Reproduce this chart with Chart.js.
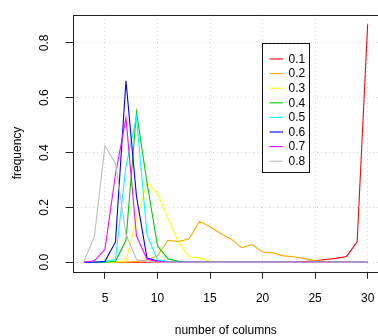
<!DOCTYPE html>
<html>
<head>
<meta charset="utf-8">
<script src="https://cdn.jsdelivr.net/npm/chart.js@4.4.1/dist/chart.umd.min.js"></script>
<style>
  html, body { margin: 0; padding: 0; background: #fff; overflow: hidden; }
  #wrap { width: 380px; height: 336px; }
</style>
</head>
<body>
<div id="wrap"><canvas id="freqChart" width="380" height="336"></canvas></div>
<script>
// number of columns (x values)
var columns = [3, 4, 5, 6, 7, 8, 9, 10, 11, 12, 13, 14, 15, 16, 17, 18, 19, 20, 21, 22, 23, 24, 25, 26, 27, 28, 29, 30];
// frequency for each setting
var p01 = [0, 0, 0, 0, 0, 0, 0, 0, 0, 0, 0, 0, 0, 0, 0, 0, 0, 0, 0, 0, 0, 0.002, 0.005, 0.01, 0.014, 0.021, 0.074, 0.868];
var p02 = [0, 0, 0, 0, 0, 0.003, 0.008, 0.023, 0.08, 0.075, 0.085, 0.149, 0.13, 0.105, 0.085, 0.053, 0.064, 0.037, 0.034, 0.023, 0.02, 0.013, 0.006, 0.002, 0, 0, 0, 0];
var p03 = [0, 0, 0, 0, 0.005, 0.155, 0.29, 0.251, 0.16, 0.074, 0.019, 0.016, 0.003, 0.001, 0, 0, 0, 0, 0, 0, 0, 0, 0, 0, 0, 0, 0, 0];
var p04 = [0, 0, 0, 0.003, 0.08, 0.548, 0.29, 0.06, 0.012, 0.003, 0, 0, 0, 0, 0, 0, 0, 0, 0, 0, 0, 0, 0, 0, 0, 0, 0, 0];
var p05 = [0, 0, 0.002, 0.01, 0.35, 0.53, 0.1, 0.008, 0.002, 0, 0, 0, 0, 0, 0, 0, 0, 0, 0, 0, 0, 0, 0, 0, 0, 0, 0, 0];
var p06 = [0, 0, 0.003, 0.074, 0.662, 0.24, 0.015, 0.004, 0, 0, 0, 0, 0, 0, 0, 0, 0, 0, 0, 0, 0, 0, 0, 0, 0, 0, 0, 0];
var p07 = [0, 0.005, 0.047, 0.32, 0.526, 0.096, 0.011, 0.002, 0, 0, 0, 0, 0, 0, 0, 0, 0, 0, 0, 0, 0, 0, 0, 0, 0, 0, 0, 0];
var p08 = [0.003, 0.095, 0.425, 0.36, 0.102, 0.01, 0.002, 0, 0, 0, 0, 0, 0, 0, 0, 0, 0, 0, 0, 0, 0, 0, 0, 0, 0, 0, 0, 0];

var seriesLabels = ["0.1", "0.2", "0.3", "0.4", "0.5", "0.6", "0.7", "0.8"];
var seriesValues = [p01, p02, p03, p04, p05, p06, p07, p08];
var seriesColors = ["#FF0000", "#FFA500", "#FFFF00", "#00CD00", "#00FFFF", "#0000FF", "#FF00FF", "#BEBEBE"];

var xTicks = [5, 10, 15, 20, 25, 30];
var yTicks = [0, 0.2, 0.4, 0.6, 0.8];
var yTickLabels = ["0.0", "0.2", "0.4", "0.6", "0.8"];

var FONT = "'Liberation Sans', Arial, Helvetica, sans-serif";

// build datasets from the arrays
var datasets = [];
for (var i = 0; i < seriesLabels.length; i++) {
	datasets.push({
		label: seriesLabels[i],
		data: columns.map(function (c, j) { return { x: c, y: seriesValues[i][j] }; }),
		borderColor: seriesColors[i],
		backgroundColor: seriesColors[i],
		borderWidth: 1.1,
		pointRadius: 0,
		tension: 0,
		fill: false,
		order: seriesLabels.length - i
	});
}

// box, rotated y labels, axis titles and legend like base R
var rStyle = {
	id: "rStyle",
	afterDraw: function (chart) {
		var c = chart.ctx;
		var a = chart.chartArea;
		var ys = chart.scales.y;
		c.save();
		// plot box
		c.strokeStyle = "#222";
		c.lineWidth = 1;
		c.strokeRect(Math.round(a.left) + 0.5, Math.round(a.top) + 0.5, Math.round(a.right - a.left), Math.round(a.bottom - a.top));
		// y tick labels, rotated
		c.fillStyle = "#000";
		c.font = "12px " + FONT;
		c.textAlign = "center";
		c.textBaseline = "middle";
		for (var k = 0; k < yTicks.length; k++) {
			c.save();
			c.translate(45, ys.getPixelForValue(yTicks[k]));
			c.rotate(-Math.PI / 2);
			c.fillText(yTickLabels[k], 0, 0);
			c.restore();
		}
		// axis titles
		c.fillText("number of columns", (a.left + a.right) / 2, 331);
		c.save();
		c.translate(18, 153);
		c.rotate(-Math.PI / 2);
		c.fillText("frequency", 0, 0);
		c.restore();
		// legend
		var lx = 262.5, ly = 43.5, lw = 47, lh = 129;
		c.fillStyle = "#fff";
		c.fillRect(lx, ly, lw, lh);
		c.strokeStyle = "#111";
		c.strokeRect(lx, ly, lw, lh);
		c.textAlign = "left";
		for (var n = 0; n < chart.data.datasets.length; n++) {
			var ds = chart.data.datasets[n];
			var rowY = 59 + n * 14.6;
			c.strokeStyle = ds.borderColor;
			c.lineWidth = 1.1;
			c.beginPath();
			c.moveTo(269.5, rowY);
			c.lineTo(283, rowY);
			c.stroke();
			c.fillStyle = "#000";
			c.fillText(ds.label, 288.5, rowY + 0.5);
		}
		c.restore();
	}
};

var ctx = document.getElementById("freqChart").getContext("2d");
var freqChart = new Chart(ctx, {
	type: "line",
	data: { datasets: datasets },
	options: {
		responsive: false,
		animation: false,
		devicePixelRatio: 1,
		layout: { padding: { left: 65.6, top: 14.8, right: 1, bottom: 16.9 } },
		plugins: { legend: { display: false }, tooltip: { enabled: false } },
		scales: {
			x: {
				type: "linear",
				min: 1.92,
				max: 31.08,
				afterBuildTicks: function (axis) {
					axis.ticks = xTicks.map(function (v) { return { value: v }; });
				},
				// let the plot run to the edge like the original
				afterFit: function (axis) {
					axis.paddingRight = 0;
					axis.paddingLeft = 0;
				},
				ticks: { color: "#000", font: { family: FONT, size: 12 }, padding: 13, maxRotation: 0 },
				grid: { color: "#d3d3d3", lineWidth: 1, tickLength: 7, tickColor: "#222", tickWidth: 1, tickBorderDash: [] },
				border: { display: false, dash: [1, 3] }
			},
			y: {
				type: "linear",
				min: -0.0347,
				max: 0.9027,
				afterBuildTicks: function (axis) {
					axis.ticks = yTicks.map(function (v) { return { value: v }; });
				},
				ticks: { display: false },
				grid: { color: "#d3d3d3", lineWidth: 1, tickLength: 7, tickColor: "#222", tickWidth: 1, tickBorderDash: [] },
				border: { display: false, dash: [1, 3] }
			}
		}
	},
	plugins: [rStyle]
});
</script>
</body>
</html>
